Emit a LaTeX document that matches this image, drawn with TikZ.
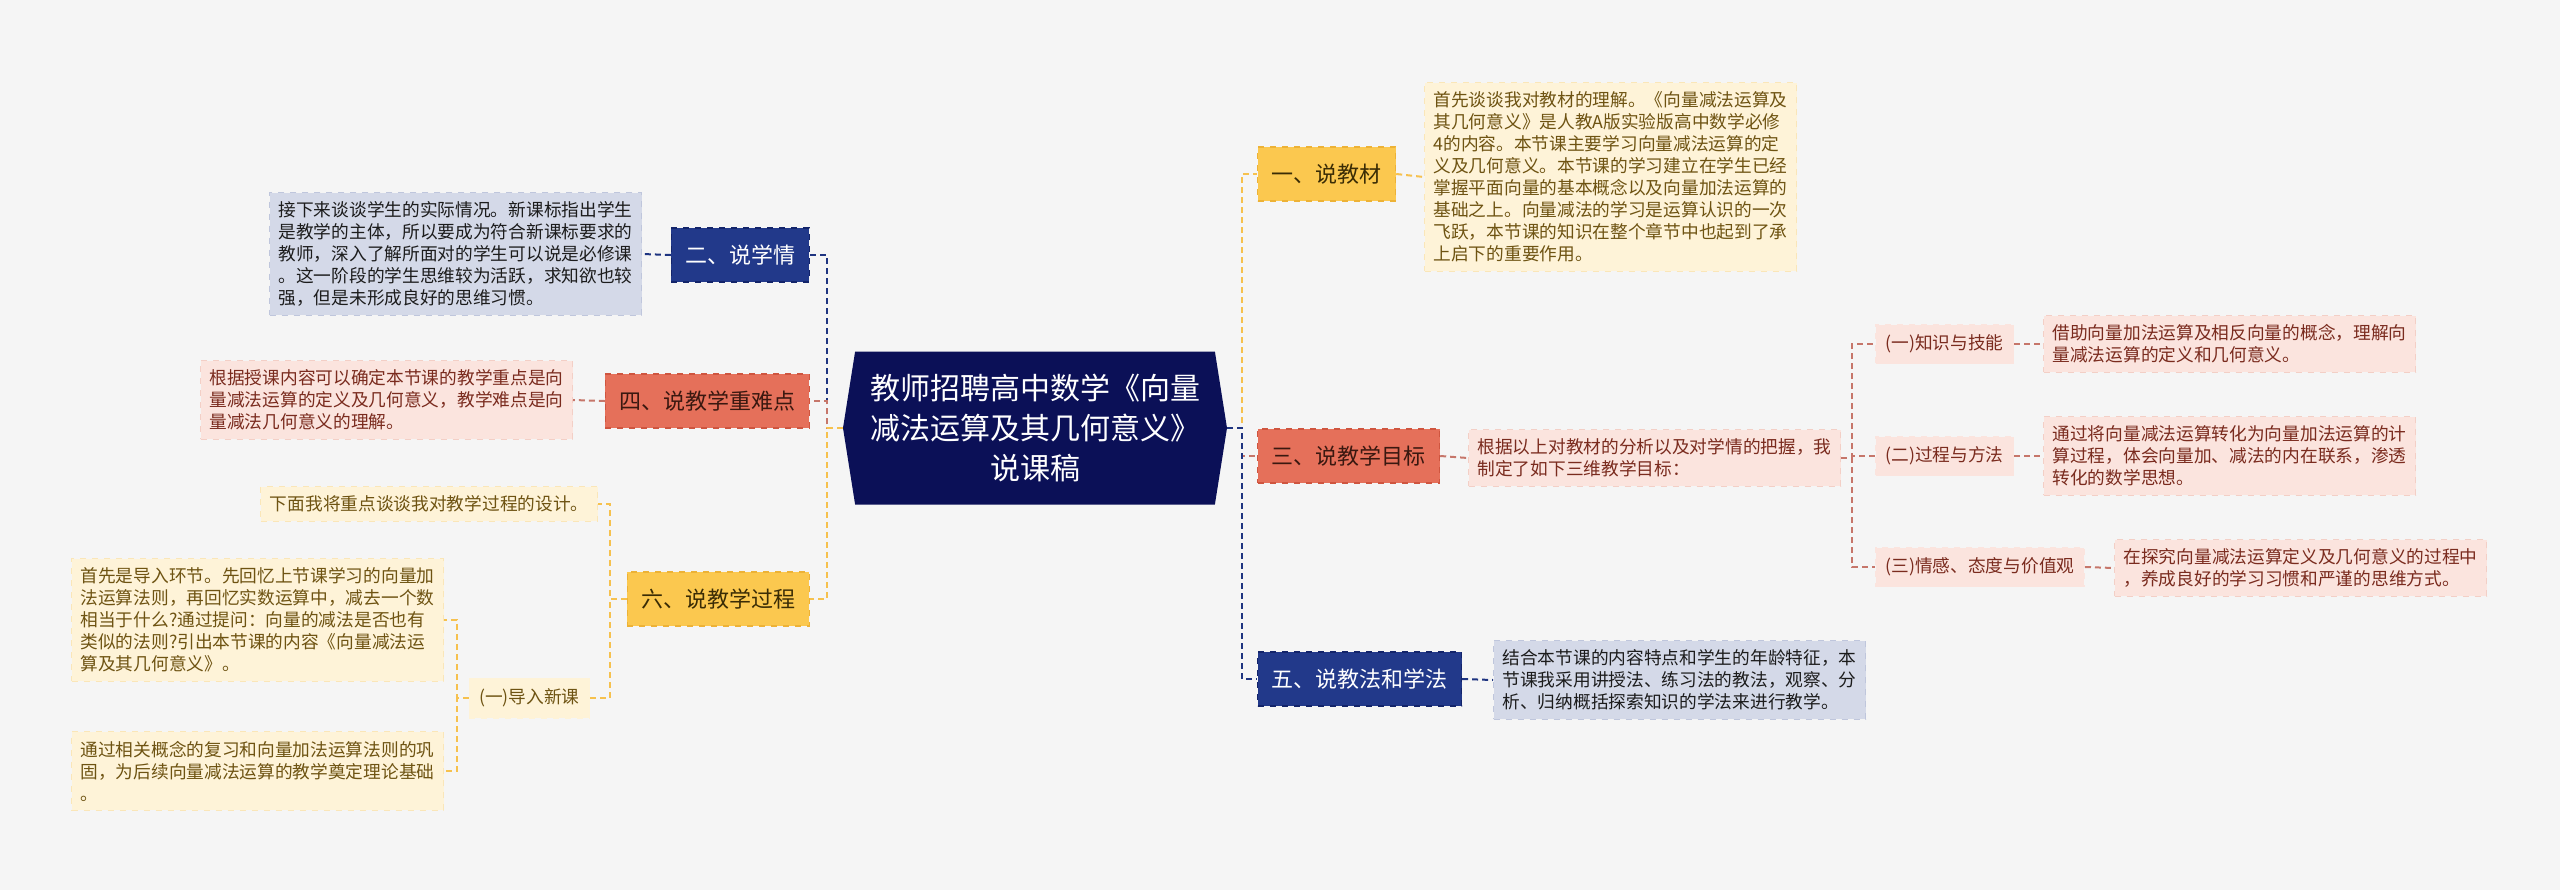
\documentclass[tikz,border=0pt]{standalone}
\usepackage{fontspec}
\usepackage{xcolor}
\usetikzlibrary{shapes.symbols}
\newfontfamily\cjk{Noto Sans CJK SC}
\definecolor{cBg}{HTML}{F5F5F5}
\definecolor{cMain}{HTML}{0B1057}
\definecolor{cYel}{HTML}{FBC84F}
\definecolor{cYelD}{HTML}{EDB236}
\definecolor{cYelL}{HTML}{FEF3D8}
\definecolor{cYelB}{HTML}{FAE6B8}
\definecolor{tYel}{HTML}{3A2C05}
\definecolor{tYelL}{HTML}{6E5312}
\definecolor{cNav}{HTML}{22398A}
\definecolor{cNavD}{HTML}{13246A}
\definecolor{cNavL}{HTML}{D4D9E8}
\definecolor{cNavB}{HTML}{BFC6DC}
\definecolor{tNavL}{HTML}{1C1C1C}
\definecolor{cRed}{HTML}{E5705A}
\definecolor{cRedD}{HTML}{CF553F}
\definecolor{cRedL}{HTML}{FBE4DE}
\definecolor{cRedB}{HTML}{F3CFC6}
\definecolor{tRed}{HTML}{3A1810}
\definecolor{tRedL}{HTML}{7A2B1E}
\definecolor{lYel}{HTML}{F6C14E}
\definecolor{lNav}{HTML}{1E3480}
\definecolor{lRed}{HTML}{C6766A}
\tikzset{
    MM/.style ={signal, signal to=west and east, signal pointer angle=162, fill=cMain, minimum width=192pt, minimum height=76.5pt, inner sep=0pt, text=white, align=center, font=\cjk\fontsize{15pt}{20pt}\selectfont},
    TP/.style ={rectangle, dashed, line width=0.6pt, minimum height=27pt, inner xsep=7pt, inner ysep=0pt, font=\cjk\fontsize{11pt}{14pt}\selectfont},
    TY/.style ={TP, fill=cYel, draw=cYelD, text=tYel},
    TN/.style ={TP, fill=cNav, draw=cNavD, text=white},
    TR/.style ={TP, fill=cRed, draw=cRedD, text=tRed},
    XB/.style ={rectangle, dashed, line width=0.5pt, align=left, inner xsep=4.5pt, inner ysep=4.5pt, font=\cjk\fontsize{8.85pt}{11pt}\selectfont},
    XY/.style ={XB, fill=cYelL, draw=cYelB, text=tYelL},
    XN/.style ={XB, fill=cNavL, draw=cNavB, text=tNavL},
    XR/.style ={XB, fill=cRedL, draw=cRedB, text=tRedL},
    SY/.style ={XB, fill=cYelL, draw=cYelL, minimum height=20pt, inner xsep=5pt, text=tYelL},
    SR/.style ={XB, fill=cRedL, draw=cRedL, minimum height=19.5pt, inner xsep=5pt, text=tRedL},
    LL/.style ={line width=1pt, dash pattern=on 3pt off 2pt},
    LY/.style ={LL, draw=lYel},
    LN/.style ={LL, draw=lNav},
    LR/.style ={LL, draw=lRed}
}
\begin{document}
\begin{tikzpicture}[x=0.5pt,y=-0.5pt]
        \fill[cBg] (0,0) rectangle (2560,890);
        \useasboundingbox (0,0) rectangle (2560,890);
        \node[MM] (main) at (1035,428) {教师招聘高中数学《向量\\减法运算及其几何意义》\\说课稿};

        \node[TY,anchor=west] (t1) at (1257,174) {一、说教材};
        \node[XY,anchor=west] (x1) at (1424,177) {首先谈谈我对教材的理解。《向量减法运算及\\其几何意义》是人教A版实验版高中数学必修\\4的内容。本节课主要学习向量减法运算的定\\义及几何意义。本节课的学习建立在学生已经\\掌握平面向量的基本概念以及向量加法运算的\\基础之上。向量减法的学习是运算认识的一次\\飞跃，本节课的知识在整个章节中也起到了承\\上启下的重要作用。};
        \node[TR,anchor=west] (t3) at (1257,456) {三、说教学目标};
        \node[XR,anchor=west] (x3) at (1468,458) {根据以上对教材的分析以及对学情的把握，我\\制定了如下三维教学目标：};
        \node[SR,anchor=west] (s31) at (1875,344) {(一)知识与技能};
        \node[XR,anchor=west] (x31) at (2043,344) {借助向量加法运算及相反向量的概念，理解向\\量减法运算的定义和几何意义。};
        \node[SR,anchor=west] (s32) at (1875,456) {(二)过程与方法};
        \node[XR,anchor=west] (x32) at (2043,456) {通过将向量减法运算转化为向量加法运算的计\\算过程，体会向量加、减法的内在联系，渗透\\转化的数学思想。};
        \node[SR,anchor=west] (s33) at (1875,567) {(三)情感、态度与价值观};
        \node[XR,anchor=west] (x33) at (2114,568) {在探究向量减法运算定义及几何意义的过程中\\，养成良好的学习习惯和严谨的思维方式。};
        \node[TN,anchor=west] (t5) at (1257,679) {五、说教法和学法};
        \node[XN,anchor=west] (x5) at (1493,680) {结合本节课的内容特点和学生的年龄特征，本\\节课我采用讲授法、练习法的教法，观察、分\\析、归纳概括探索知识的学法来进行教学。};

        \node[TN,anchor=east] (t2) at (810,255) {二、说学情};
        \node[XN,anchor=east] (x2) at (642,254) {接下来谈谈学生的实际情况。新课标指出学生\\是教学的主体，所以要成为符合新课标要求的\\教师，深入了解所面对的学生可以说是必修课\\。这一阶段的学生思维较为活跃，求知欲也较\\强，但是未形成良好的思维习惯。};
        \node[TR,anchor=east] (t4) at (810,401) {四、说教学重难点};
        \node[XR,anchor=east] (x4) at (573,400) {根据授课内容可以确定本节课的教学重点是向\\量减法运算的定义及几何意义，教学难点是向\\量减法几何意义的理解。};
        \node[TY,anchor=east] (t6) at (810,599) {六、说教学过程};
        \node[XY,anchor=east] (x6) at (598,504) {下面我将重点谈谈我对教学过程的设计。};
        \node[SY,anchor=east] (s61) at (590,698) {(一)导入新课};
        \node[XY,anchor=east] (x61) at (444,620) {首先是导入环节。先回忆上节课学习的向量加\\法运算法则，再回忆实数运算中，减去一个数\\相当于什么?通过提问：向量的减法是否也有\\类似的法则?引出本节课的内容《向量减法运\\算及其几何意义》。};
        \node[XY,anchor=east] (x62) at (444,771) {通过相关概念的复习和向量加法运算法则的巩\\固，为后续向量减法运算的教学奠定理论基础\\。};

        \draw[LN] (main.west) -- ++(-16,0) |- (t2.east);
        \draw[LR] (main.west) -- ++(-16,0) |- (t4.east);
        \draw[LY] (main.west) -- ++(-16,0) |- (t6.east);
        \draw[LY] (main.east) -- ++(15,0) |- (t1.west);
        \draw[LR] (main.east) -- ++(15,0) |- (t3.west);
        \draw[LN] (main.east) -- ++(15,0) |- (t5.west);
        \draw[LY] (t1.east) -- (x1.west);
        \draw[LR] (t3.east) -- (x3.west);
        \draw[LN] (t5.east) -- (x5.west);
        \draw[LN] (t2.west) -- (x2.east);
        \draw[LR] (t4.west) -- (x4.east);
        \draw[LR] (x3.east) -- ++(11,0) |- (s31.west);
        \draw[LR] (x3.east) -- ++(11,0) |- (s32.west);
        \draw[LR] (x3.east) -- ++(11,0) |- (s33.west);
        \draw[LR] (s31.east) -- (x31.west);
        \draw[LR] (s32.east) -- (x32.west);
        \draw[LR] (s33.east) -- (x33.west);
        \draw[LY] (t6.west) -- ++(-17,0) |- (x6.east);
        \draw[LY] (t6.west) -- ++(-17,0) |- (s61.east);
        \draw[LY] (s61.west) -- ++(-12,0) |- (x61.east);
        \draw[LY] (s61.west) -- ++(-12,0) |- (x62.east);
    \end{tikzpicture}
\end{document}
